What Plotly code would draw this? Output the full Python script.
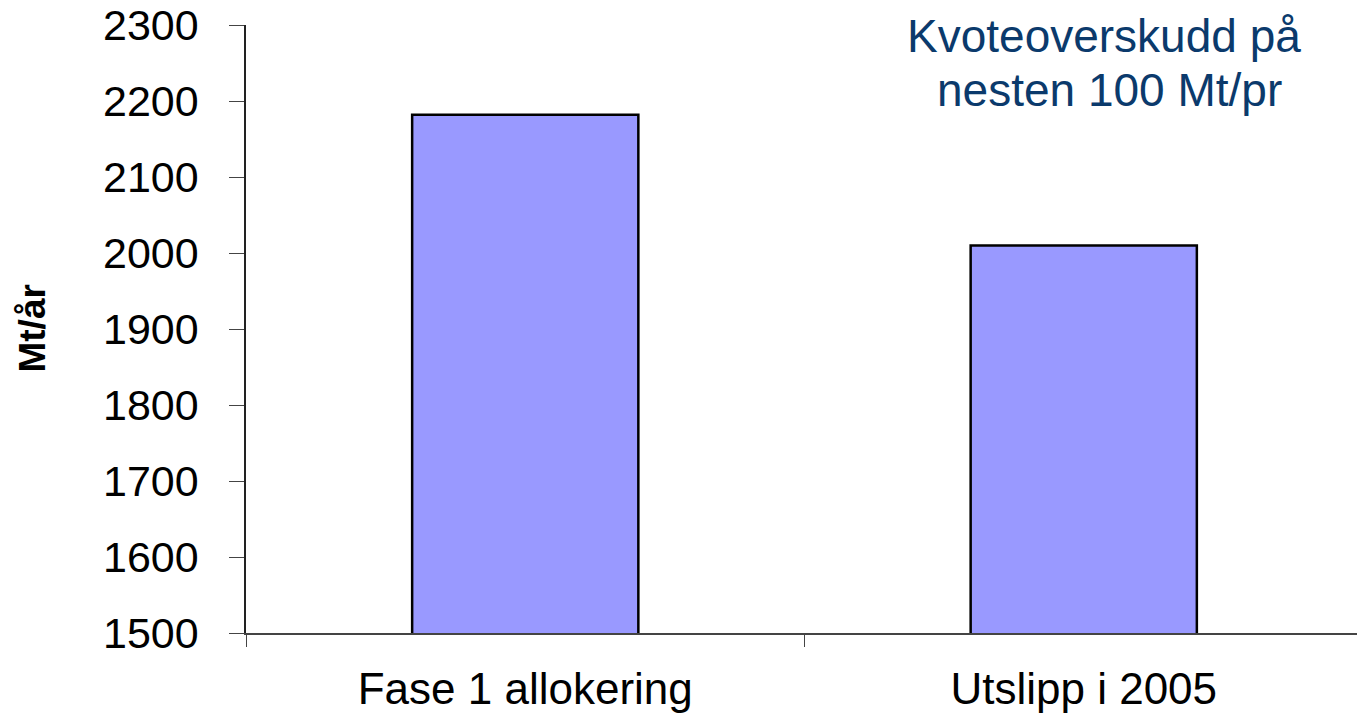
import plotly.graph_objects as go

# data
categories = ["Fase 1 allokering", "Utslipp i 2005"]
values = [2182, 2010]
y_ticks = [1500, 1600, 1700, 1800, 1900, 2000, 2100, 2200, 2300]
note_lines = ["Kvoteoverskudd på", "nesten 100 Mt/pr"]

font_family = "Liberation Sans, Arial, sans-serif"

fig = go.Figure()

fig.add_trace(go.Bar(
    x=categories,
    y=values,
    marker=dict(color="#9999FF", line=dict(color="black", width=2.5)),
    width=0.405,
    showlegend=False,
))

# page body has an 8px margin, so the figure is a bit smaller than the window
fig.update_layout(
    width=1357,
    height=706,
    margin=dict(l=238, r=2, t=17, b=81, autoexpand=False),
    paper_bgcolor="white",
    plot_bgcolor="white",
    font=dict(family=font_family, color="black"),
)

fig.update_xaxes(
    type="category",
    tickson="boundaries",
    ticks="outside",
    ticklen=12,
    tickcolor="#444444",
    showline=True,
    linecolor="#444444",
    linewidth=1.5,
    showgrid=False,
    automargin=False,
    tickfont=dict(size=44, family=font_family),
    ticklabelstandoff=16,
)

fig.update_yaxes(
    range=[1500, 2300],
    tickvals=y_ticks,
    ticks="outside",
    ticklen=15,
    tickcolor="#444444",
    showline=True,
    linecolor="#222222",
    linewidth=1.5,
    showgrid=False,
    zeroline=False,
    automargin=False,
    tickfont=dict(size=43, family=font_family),
    ticklabelstandoff=22,
    ticklabeloverflow="allow",
)

# y axis title (rotated, bold)
fig.add_annotation(
    text="<b>Mt/år</b>",
    xref="paper", yref="paper",
    x=-0.192, y=0.50,
    xanchor="center", yanchor="middle",
    textangle=-90,
    showarrow=False,
    font=dict(size=37, family=font_family, color="black"),
)

# note in top right corner
note_y = [0.982, 0.893]
note_x = [0.768, 0.773]
for txt, nx, ny in zip(note_lines, note_x, note_y):
    fig.add_annotation(
        text=txt,
        xref="paper", yref="paper",
        x=nx, y=ny,
        xanchor="center", yanchor="middle",
        showarrow=False,
        font=dict(size=46, family=font_family, color="#0B3A6C"),
    )

fig.write_html("out.html")
